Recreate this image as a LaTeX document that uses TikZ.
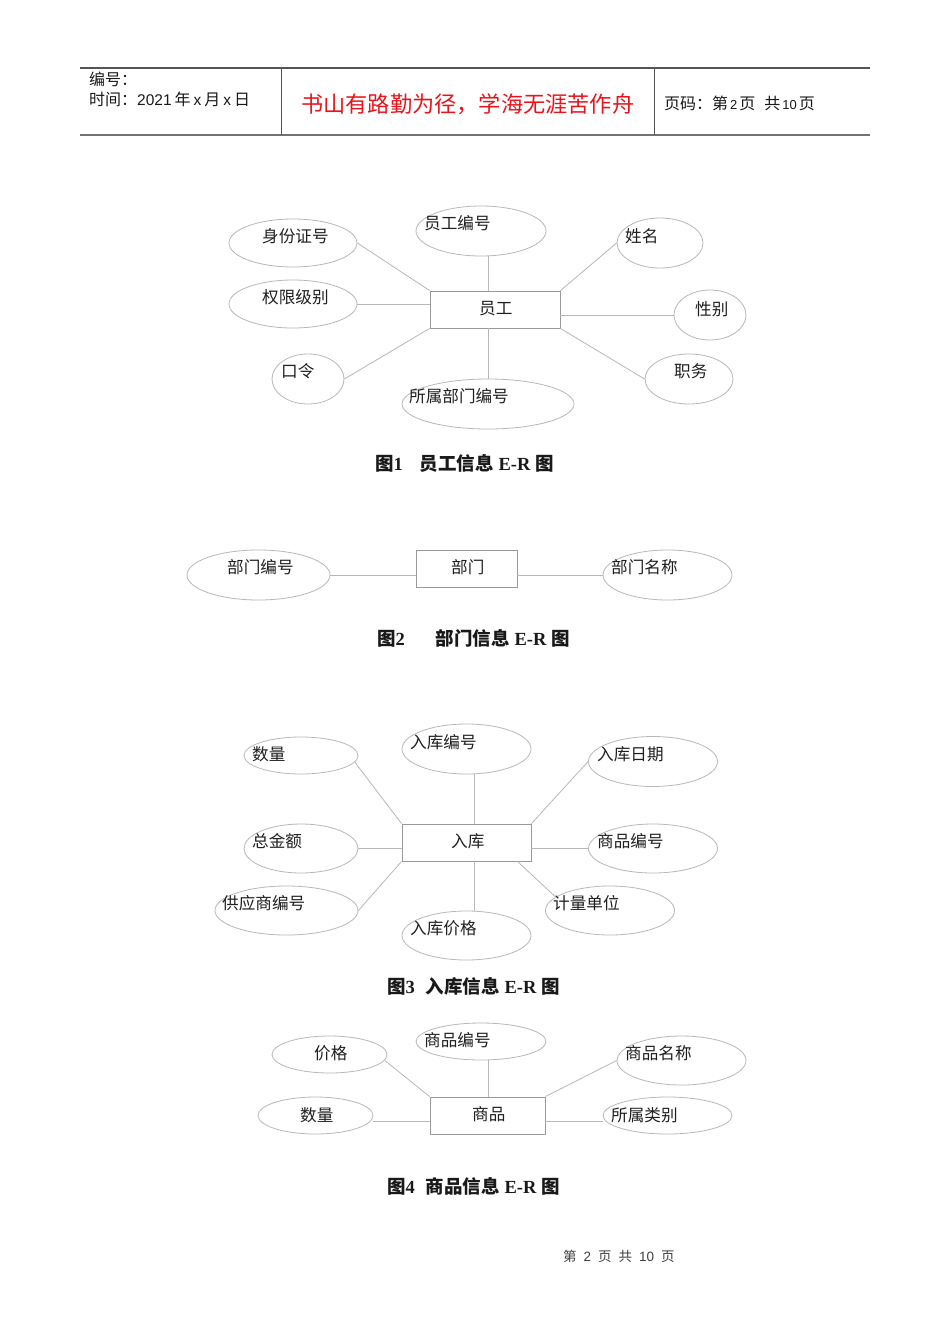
\documentclass[tikz,border=0pt]{standalone}
\usepackage{fontspec}
\setmainfont{Liberation Serif}
\newfontfamily\cjk{Noto Sans CJK SC}
\newfontfamily\lsans{Liberation Sans}
\usetikzlibrary{shapes.geometric}
\definecolor{ellcol}{HTML}{B8B8B8}
\definecolor{boxcol}{HTML}{9A9A9A}
\definecolor{hdrline}{HTML}{555555}
\definecolor{redtxt}{HTML}{E8141B}
\begin{document}
\begin{tikzpicture}[x=1pt,y=-1pt,
  attr/.style={ellipse, draw=ellcol, line width=0.8pt, inner sep=0pt},
  ent/.style={rectangle, draw=boxcol, line width=0.9pt, inner sep=0pt},
  lbl/.style={anchor=west, inner sep=0pt, font=\cjk\fontsize{16.6}{19}\selectfont, text=black!88},
  conn/.style={draw=ellcol, line width=0.8pt},
  figcap/.style={anchor=west, inner sep=0pt, font=\fontsize{18.5}{21}\selectfont\bfseries, text=black!90},
  hdr/.style={anchor=west, inner sep=0pt, font=\cjk\fontsize{16}{18}\selectfont, text=black!90}]
\useasboundingbox[fill=white] (0,0) rectangle (950,1344);

% ---------- header ----------
\coordinate (htl) at (80,68);
\coordinate (htr) at (870,68);
\coordinate (hbl) at (80,135);
\coordinate (hbr) at (870,135);
\coordinate (v1t) at (281,68);
\coordinate (v1b) at (281,135);
\coordinate (v2t) at (654,68);
\coordinate (v2b) at (654,135);
\draw[hdrline, line width=1.2pt] (htl) -- (htr);
\draw[black!55, line width=1.6pt] (hbl) -- (hbr);
\draw[hdrline, line width=1pt] (v1t) -- (v1b);
\draw[hdrline, line width=1pt] (v2t) -- (v2b);
\node[hdr] (h1) at (89,79) {编号：};
\node[hdr] (h2) at (89,99) {时间：{\lsans\fontsize{15.5}{18}\selectfont 2021}\hspace{3pt}年\hspace{3pt}{\lsans\fontsize{15.5}{18}\selectfont x}\hspace{3pt}月\hspace{3pt}{\lsans\fontsize{15.5}{18}\selectfont x}\hspace{3pt}日};
\node[anchor=west, inner sep=0pt, font=\cjk\fontsize{22.2}{25}\selectfont, text=redtxt] (motto) at (301,104) {书山有路勤为径，学海无涯苦作舟};
\node[hdr] (h3) at (664,103) {页码：第\hspace{2pt}{\lsans\fontsize{13}{15}\selectfont 2}\hspace{2pt}页\hspace{9pt}共\hspace{2pt}{\lsans\fontsize{13}{15}\selectfont 10}\hspace{2pt}页};

% ---------- figure 1 ----------
\node[ent, minimum width=130, minimum height=37] (yg) at (495,309.5) {};
\node[lbl] (yg-t) at (479,309) {员工};
\node[attr, minimum width=130, minimum height=50] (ygbh) at (481,231) {};
\node[lbl] (ygbh-t) at (424,223) {员工编号};
\node[attr, minimum width=128, minimum height=48] (sfz) at (293,243) {};
\node[lbl] (sfz-t) at (262,236) {身份证号};
\node[attr, minimum width=86, minimum height=50] (xm) at (660,243) {};
\node[lbl] (xm-t) at (625,236) {姓名};
\node[attr, minimum width=128, minimum height=48] (qx) at (293,304) {};
\node[lbl] (qx-t) at (262,297) {权限级别};
\node[attr, minimum width=72, minimum height=50] (xb) at (710,315) {};
\node[lbl] (xb-t) at (695,309) {性别};
\node[attr, minimum width=72, minimum height=50] (kl) at (308,379) {};
\node[lbl] (kl-t) at (281,371) {口令};
\node[attr, minimum width=172, minimum height=50] (ssbm) at (488,404) {};
\node[lbl] (ssbm-t) at (409,396) {所属部门编号};
\node[attr, minimum width=88, minimum height=50] (zw) at (689,379) {};
\node[lbl] (zw-t) at (674,371) {职务};

\draw[conn] (sfz.east) -- (yg.north west);
\draw[conn] (qx.east) -- (qx.east -| yg.west);
\draw[conn] (kl.east) -- (yg.south west);
\draw[conn] (ssbm.north) -- (ssbm.north |- yg.south);
\draw[conn] (ssbm.north |- ygbh.south) -- (ssbm.north |- yg.north);
\draw[conn] (xm.west) -- (yg.north east);
\draw[conn] (xb.west) -- (xb.west -| yg.east);
\draw[conn] (zw.west) -- (yg.south east);

\node[figcap] (cap1) at (375,463) {{\cjk 图}1\hspace{17pt}{\cjk 员工信息} E-R {\cjk 图}};

% ---------- figure 2 ----------
\node[ent, minimum width=101, minimum height=37] (bm) at (466.5,568.5) {};
\node[lbl] (bm-t) at (451,567) {部门};
\node[attr, minimum width=143, minimum height=50] (bmbh) at (258.5,575) {};
\node[lbl] (bmbh-t) at (227,567) {部门编号};
\node[attr, minimum width=129, minimum height=50] (bmmc) at (667.5,575) {};
\node[lbl] (bmmc-t) at (611,567) {部门名称};
\draw[conn] (bmbh.east) -- (bmbh.east -| bm.west);
\draw[conn] (bmmc.west) -- (bmmc.west -| bm.east);

\node[figcap] (cap2) at (377,638) {{\cjk 图}2\hspace{31pt}{\cjk 部门信息} E-R {\cjk 图}};

% ---------- figure 3 ----------
\node[ent, minimum width=129, minimum height=37] (rk) at (466.5,842.5) {};
\node[lbl] (rk-t) at (451,841) {入库};
\node[attr, minimum width=129, minimum height=50] (rkbh) at (466.5,749) {};
\node[lbl] (rkbh-t) at (410,742) {入库编号};
\node[attr, minimum width=114, minimum height=37] (sl) at (301,755.5) {};
\node[lbl] (sl-t) at (252,754) {数量};
\node[attr, minimum width=129, minimum height=50] (rkrq) at (653,761.5) {};
\node[lbl] (rkrq-t) at (597,754) {入库日期};
\node[attr, minimum width=114, minimum height=49] (zje) at (301,848.5) {};
\node[lbl] (zje-t) at (252,841) {总金额};
\node[attr, minimum width=129, minimum height=49] (spbh3) at (653,848.5) {};
\node[lbl] (spbh3-t) at (597,841) {商品编号};
\node[attr, minimum width=143, minimum height=49] (gys) at (286.5,910.5) {};
\node[lbl] (gys-t) at (222,903) {供应商编号};
\node[attr, minimum width=129, minimum height=49] (jldw) at (610,910.5) {};
\node[lbl] (jldw-t) at (553,903) {计量单位};
\node[attr, minimum width=129, minimum height=49] (rkjg) at (466.5,935.5) {};
\node[lbl] (rkjg-t) at (410,928) {入库价格};

\draw[conn] (sl.-7) -- (rk.north west);
\draw[conn] ([xshift=8pt]rkbh.south) -- ([xshift=8pt]rkbh.south |- rk.north);
\draw[conn] (rkrq.west) -- (rk.north east);
\draw[conn] (zje.east) -- (zje.east -| rk.west);
\draw[conn] (spbh3.west) -- (spbh3.west -| rk.east);
\draw[conn] (gys.east) -- (rk.south west);
\draw[conn] ([xshift=8pt]rkjg.north) -- ([xshift=8pt]rkjg.north |- rk.south);
\draw[conn] (jldw.166) -- ([xshift=-14pt]rk.south east);

\node[figcap] (cap3) at (387,986) {{\cjk 图}3\hspace{11pt}{\cjk 入库信息} E-R {\cjk 图}};

% ---------- figure 4 ----------
\node[ent, minimum width=115, minimum height=37] (sp) at (487.5,1115.5) {};
\node[lbl] (sp-t) at (472,1114) {商品};
\node[attr, minimum width=130, minimum height=37] (spbh) at (481,1041.5) {};
\node[lbl] (spbh-t) at (424,1040) {商品编号};
\node[attr, minimum width=115, minimum height=37] (jg) at (329.5,1054.5) {};
\node[lbl] (jg-t) at (314,1053) {价格};
\node[attr, minimum width=129, minimum height=49] (spmc) at (681.5,1060.5) {};
\node[lbl] (spmc-t) at (625,1053) {商品名称};
\node[attr, minimum width=115, minimum height=37] (sl4) at (315.5,1115.5) {};
\node[lbl] (sl4-t) at (300,1115) {数量};
\node[attr, minimum width=129, minimum height=37] (sslb) at (667.5,1115.5) {};
\node[lbl] (sslb-t) at (611,1115) {所属类别};

\draw[conn] (jg.-6) -- (sp.north west);
\draw[conn] ([xshift=7pt]spbh.south) -- ([xshift=7pt]spbh.south |- sp.north);
\draw[conn] (spmc.west) -- (sp.north east);
\draw[conn] ([yshift=-6pt]sl4.east) -- ([yshift=-6pt]sl4.east -| sp.west);
\draw[conn] ([yshift=-6pt]sslb.west) -- ([yshift=-6pt]sslb.west -| sp.east);

\node[figcap] (cap4) at (387,1186) {{\cjk 图}4\hspace{11pt}{\cjk 商品信息} E-R {\cjk 图}};

% ---------- footer ----------
\node[anchor=west, inner sep=0pt, font=\cjk\fontsize{13.5}{16}\selectfont, text=black!75] (foot) at (563,1256) {第\hspace{7pt}{\lsans 2}\hspace{7pt}页\hspace{7pt}共\hspace{7pt}{\lsans 10}\hspace{7pt}页};
\end{tikzpicture}
\end{document}
